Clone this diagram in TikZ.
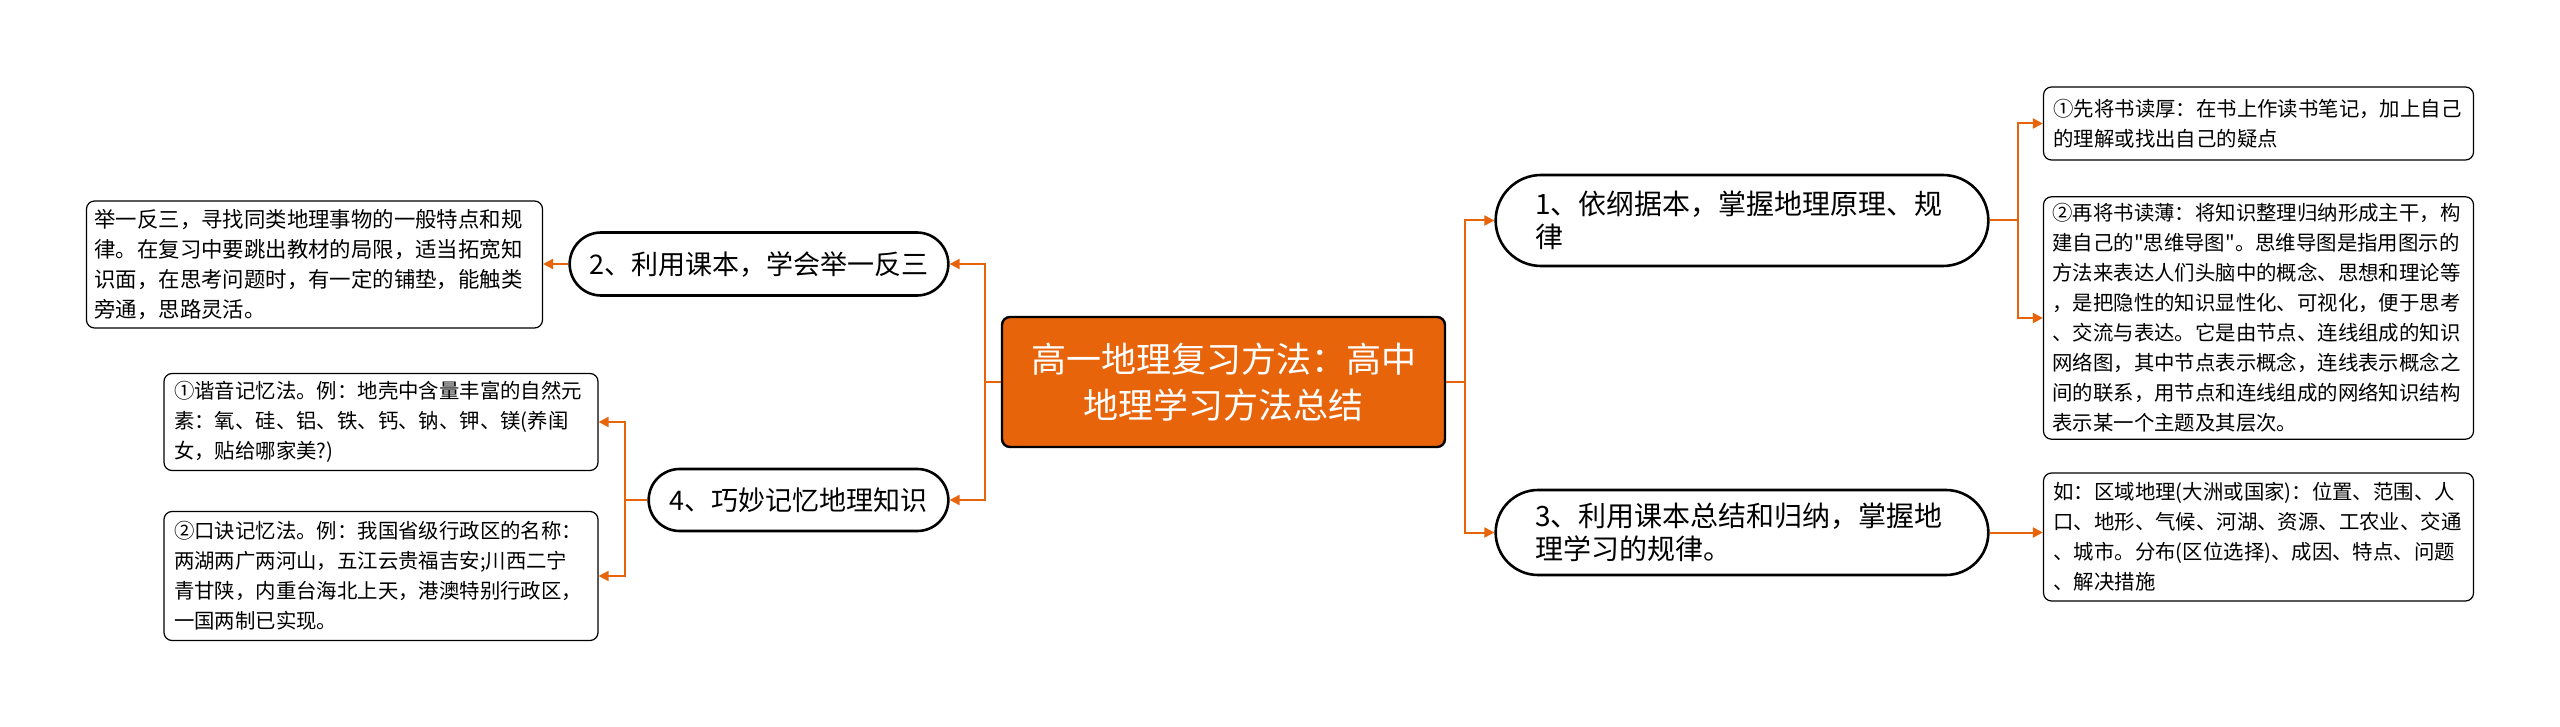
\documentclass[tikz,border=0pt]{standalone}
\usepackage{fontspec}
\setmainfont{Noto Sans CJK SC}
\newfontfamily\plainquote{Noto Sans CJK SC}
\usepackage{xcolor}
\usetikzlibrary{positioning,arrows.meta,shapes.misc}

\definecolor{mapOrange}{RGB}{232,100,10}
\XeTeXlinebreaklocale "zh"

\begin{document}
\begin{tikzpicture}[
  x=0.5pt, y=-0.5pt,
  root/.style={draw=black, line width=1.2pt, rounded corners=4pt, fill=mapOrange, text=white, minimum width=221.5pt, minimum height=65pt, align=center, font=\fontsize{17.5}{23}\selectfont},
  topic/.style={draw=black, line width=1.3pt, rounded rectangle, fill=white, minimum height=31.5pt, align=center, font=\fontsize{13.5}{16.5}\selectfont},
  bigtopic/.style={topic, minimum width=253pt, text width=207pt, align=left, font=\fontsize{14}{16.5}\selectfont},
  leaf/.style={draw=black, line width=0.6pt, rounded corners=4pt, fill=white, inner xsep=5pt, align=left, font=\fontsize{10.2}{15}\selectfont},
  link/.style={draw=mapOrange, line width=1pt, -{Triangle[length=5pt,width=5pt]}},
  stem/.style={draw=mapOrange, line width=1pt}
]
\useasboundingbox (0,0) rectangle (2560,727);

% centre
\node[root] (root) at (1223.5,382) {高一地理复习方法：高中\\地理学习方法总结};

% left side
\node[topic, minimum width=196pt] (tp2) at (759,264) {2、利用课本，学会举一反三};
\node[topic, minimum width=156.5pt, minimum height=31pt] (tp4) at (798.5,500) {4、巧妙记忆地理知识};

\node[leaf, text width=220pt, inner xsep=4pt, minimum height=63.5pt, font=\fontsize{10.7}{15}\selectfont] (lf2) at (314.5,264.5) {举一反三，寻找同类地理事物的一般特点和规\\律。在复习中要跳出教材的局限，适当拓宽知\\识面，在思考问题时，有一定的铺垫，能触类\\旁通，思路灵活。};
\node[leaf, text width=207pt, minimum height=48.5pt] (lf4a) at (381,422) {①谐音记忆法。例：地壳中含量丰富的自然元\\素：氧、硅、铝、铁、钙、钠、钾、镁(养闺\\女，贴给哪家美?)};
\node[leaf, text width=207pt, minimum height=64.5pt] (lf4b) at (381,576) {②口诀记忆法。例：我国省级行政区的名称：\\两湖两广两河山，五江云贵福吉安;川西二宁\\青甘陕，内重台海北上天，港澳特别行政区，\\一国两制已实现。};

% right side
\node[bigtopic, minimum height=45.5pt] (tp1) at (1742,220.5) {1、依纲据本，掌握地理原理、规\\律};
\node[bigtopic, minimum height=42.5pt] (tp3) at (1742,532.5) {3、利用课本总结和归纳，掌握地\\理学习的规律。};

\node[leaf, text width=205pt, minimum height=36.5pt] (lf1a) at (2258.5,123.5) {①先将书读厚：在书上作读书笔记，加上自己\\的理解或找出自己的疑点};
\node[leaf, text width=206pt, inner xsep=4.5pt, minimum height=120pt] (lf1b) at (2258.5,318) {②再将书读薄：将知识整理归纳形成主干，构\\建自己的{\plainquote "}思维导图{\plainquote "}。思维导图是指用图示的\\方法来表达人们头脑中的概念、思想和理论等\\，是把隐性的知识显性化、可视化，便于思考\\、交流与表达。它是由节点、连线组成的知识\\网络图，其中节点表示概念，连线表示概念之\\间的联系，用节点和连线组成的网络知识结构\\表示某一个主题及其层次。};
\node[leaf, text width=205pt, minimum height=64pt] (lf3) at (2258.5,537) {如：区域地理(大洲或国家)：位置、范围、人\\口、地形、气候、河湖、资源、工农业、交通\\、城市。分布(区位选择)、成因、特点、问题\\、解决措施};

% branch points
\coordinate (lsplit) at (985,382);
\coordinate (rsplit) at (1465,382);
\coordinate (split4) at (625,500);
\coordinate (split1) at (2018,220.5);

% connectors
\draw[stem] (root.west) -- (lsplit);
\draw[link] (lsplit) |- (tp2.east);
\draw[link] (lsplit) |- (tp4.east);
\draw[stem] (root.east) -- (rsplit);
\draw[link] (rsplit) |- (tp1.west);
\draw[link] (rsplit) |- (tp3.west);

\draw[link] (tp2.west) -- (tp2.west -| lf2.east);
\draw[stem] (tp4.west) -- (split4);
\draw[link] (split4) |- (lf4a.east);
\draw[link] (split4) |- (lf4b.east);

\draw[stem] (tp1.east) -- (split1);
\draw[link] (split1) |- (lf1a.west);
\draw[link] (split1) |- (lf1b.west);
\draw[link] (tp3.east) -- (tp3.east -| lf3.west);
\end{tikzpicture}
\end{document}
